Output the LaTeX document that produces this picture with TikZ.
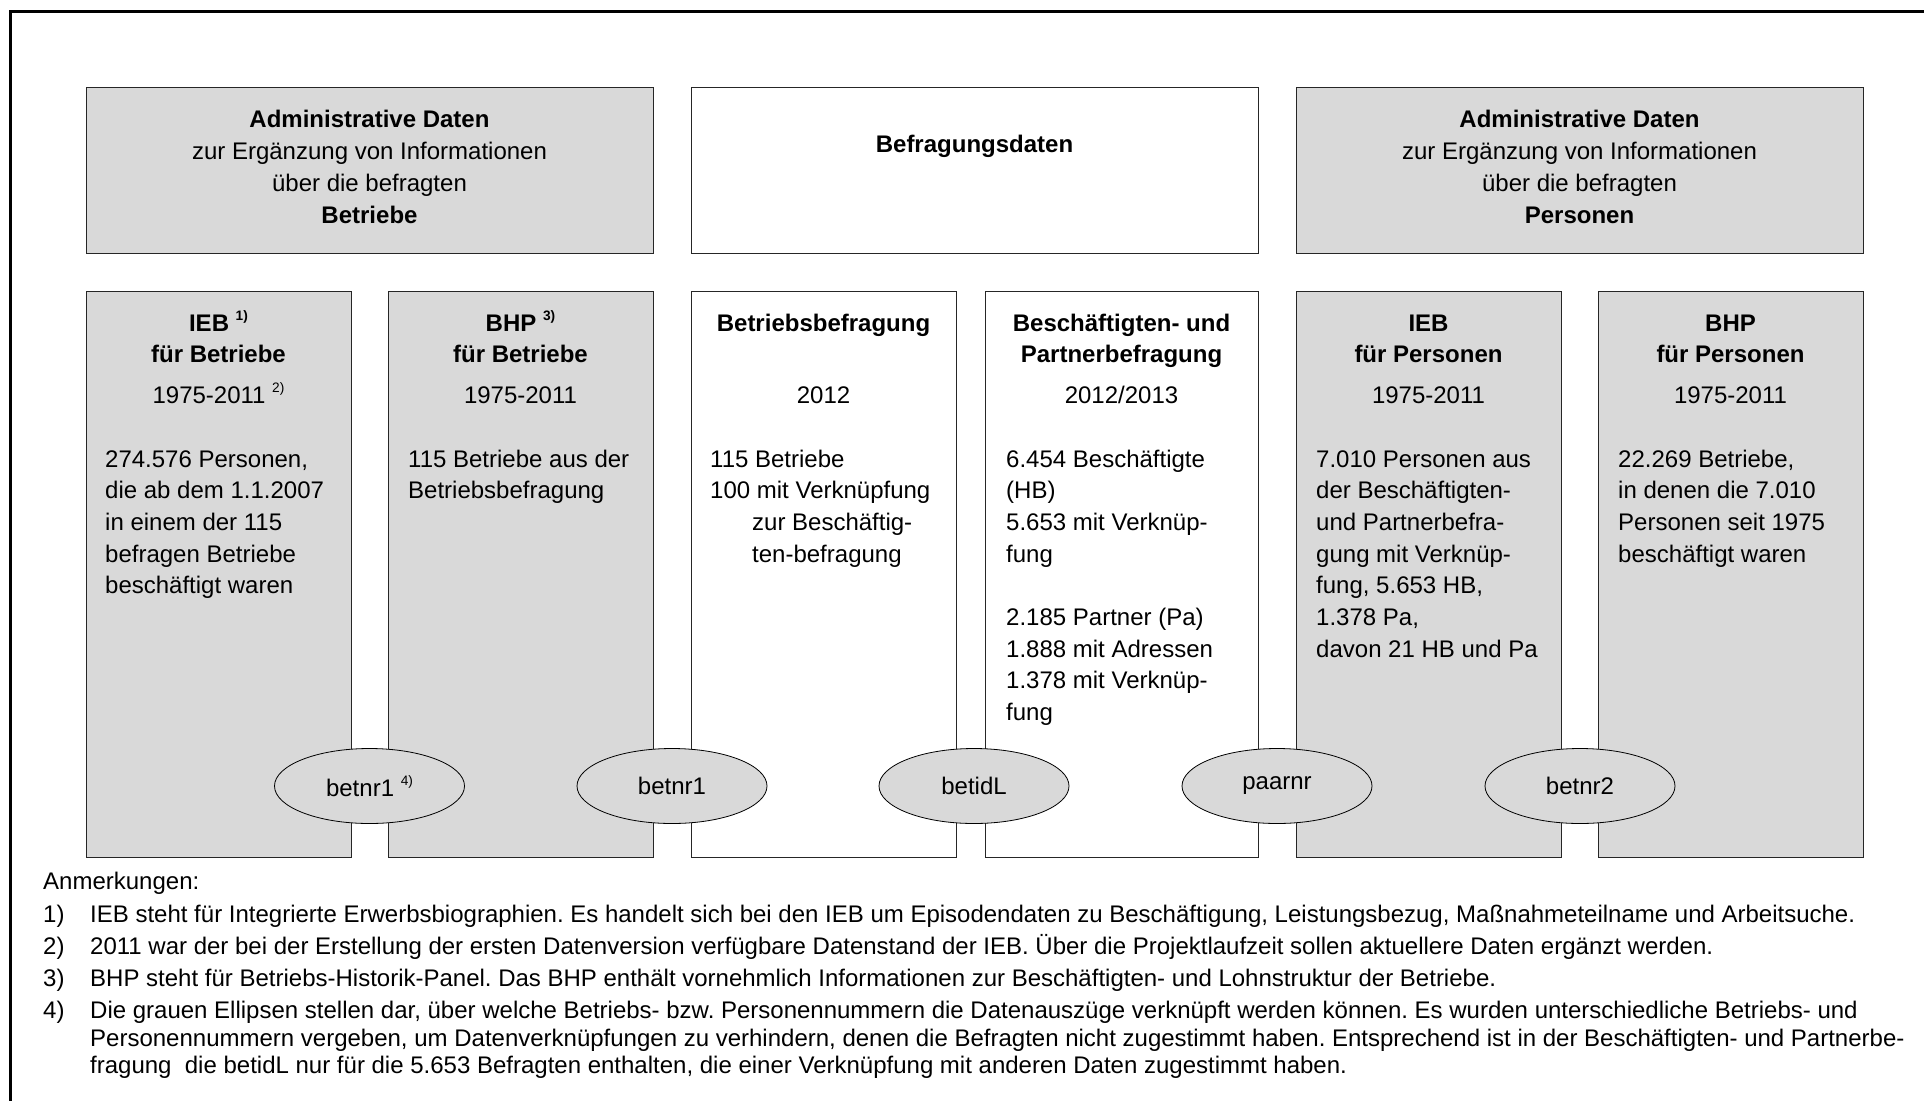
\documentclass[tikz,border=0pt]{standalone}
\usepackage{fontspec}
\setmainfont{Liberation Sans}
\usetikzlibrary{shapes.geometric}
\definecolor{boxgray}{HTML}{D9D9D9}
\newcommand\supx[1]{\raisebox{11pt}{\fontsize{13.7}{13.7}\selectfont #1}}
\newcommand\fsz{\fontsize{24}{31.7}\selectfont}
\frenchspacing
\begin{document}
\begin{tikzpicture}[x=1pt,y=-1pt,
  box/.style={draw=black!85, line width=1.4pt, rectangle, inner sep=0pt, anchor=north west},
  gbox/.style={box, fill=boxgray},
  wbox/.style={box, fill=white},
  topbox/.style={minimum width=567pt, minimum height=166pt},
  colbox/.style={minimum width=265pt, minimum height=566pt},
  lnk/.style={ellipse, draw=black, line width=0.8pt, fill=boxgray, minimum width=190pt, minimum height=75pt, inner sep=0pt, font=\fsz},
  ttl/.style={inner sep=0pt, font=\fsz\bfseries, anchor=base},
  ctr/.style={inner sep=0pt, font=\fsz, anchor=base},
  lft/.style={inner sep=0pt, font=\fsz, anchor=base west}]
\useasboundingbox (0,0) rectangle (1924,1100);
\draw[line width=3pt] (10,1110) -- (10,11) -- (1935,11);

% top boxes
\node[gbox, topbox] (topL) at (86,87) {};
\node[wbox, topbox] (topM) at (691,87) {};
\node[gbox, topbox] (topR) at (1296,87) {};

\node[ttl] (tL1) at (369.5,127) {Administrative Daten};
\node[ctr] (tL2) at (369.5,159) {zur Ergänzung von Informationen};
\node[ctr] (tL3) at (369.5,191) {über die befragten};
\node[ttl] (tL4) at (369.5,223) {Betriebe};

\node[ttl] (tM1) at (974.5,152) {Befragungsdaten};

\node[ttl] (tR1) at (1579.5,127) {Administrative Daten};
\node[ctr] (tR2) at (1579.5,159) {zur Ergänzung von Informationen};
\node[ctr] (tR3) at (1579.5,191) {über die befragten};
\node[ttl] (tR4) at (1579.5,223) {Personen};

% column boxes
\node[gbox, colbox] (c1) at (86,291) {};
\node[gbox, colbox] (c2) at (388,291) {};
\node[wbox, colbox] (c3) at (691,291) {};
\node[wbox, colbox, minimum width=273pt] (c4) at (985,291) {};
\node[gbox, colbox] (c5) at (1296,291) {};
\node[gbox, colbox] (c6) at (1598,291) {};

% column 1
\node[ttl] (c1a) at (218.5,331) {IEB \supx{1)}};
\node[ttl] (c1b) at (218.5,362) {für Betriebe};
\node[ctr] (c1c) at (218.5,403) {1975-2011 \supx{2)}};
\foreach \t [count=\i] in {{274.576 Personen,},die ab dem 1.1.2007,in einem der 115,befragen Betriebe,beschäftigt waren}
  \node[lft] (b1l\i) at (105,{467+31.7*(\i-1)}) {\t};

% column 2
\node[ttl] (c2a) at (520.5,331) {BHP \supx{3)}};
\node[ttl] (c2b) at (520.5,362) {für Betriebe};
\node[ctr] (c2c) at (520.5,403) {1975-2011};
\foreach \t [count=\i] in {115 Betriebe aus der,Betriebsbefragung}
  \node[lft] (b2l\i) at (408,{467+31.7*(\i-1)}) {\t};

% column 3
\node[ttl] (c3a) at (823.5,331) {Betriebsbefragung};
\node[ctr] (c3c) at (823.5,403) {2012};
\node[lft] (b3l1) at (710,467) {115 Betriebe};
\node[lft] (b3l2) at (710,498.7) {100 mit Verknüpfung};
\node[lft] (b3l3) at (752,530.4) {zur Beschäftig-};
\node[lft] (b3l4) at (752,562.1) {ten-befragung};

% column 4
\node[ttl] (c4a) at (1121.5,331) {Beschäftigten- und};
\node[ttl] (c4b) at (1121.5,362) {Partnerbefragung};
\node[ctr] (c4c) at (1121.5,403) {2012/2013};
\foreach \t [count=\i] in {6.454 Beschäftigte,(HB),5.653 mit Verknüp-,fung,{},2.185 Partner (Pa),1.888 mit Adressen,1.378 mit Verknüp-,fung}
  \node[lft] (b4l\i) at (1006,{467+31.7*(\i-1)}) {\t};

% column 5
\node[ttl] (c5a) at (1428.5,331) {IEB};
\node[ttl] (c5b) at (1428.5,362) {für Personen};
\node[ctr] (c5c) at (1428.5,403) {1975-2011};
\foreach \t [count=\i] in {7.010 Personen aus,der Beschäftigten-,und Partnerbefra-,gung mit Verknüp-,{fung, 5.653 HB,},{1.378 Pa,},davon 21 HB und Pa}
  \node[lft] (b5l\i) at (1316,{467+31.7*(\i-1)}) {\t};

% column 6
\node[ttl] (c6a) at (1730.5,331) {BHP};
\node[ttl] (c6b) at (1730.5,362) {für Personen};
\node[ctr] (c6c) at (1730.5,403) {1975-2011};
\foreach \t [count=\i] in {{22.269 Betriebe,},in denen die 7.010,Personen seit 1975,beschäftigt waren}
  \node[lft] (b6l\i) at (1618,{467+31.7*(\i-1)}) {\t};

% link ellipses
\node[lnk] (e1) at (369.5,786) {betnr1 \supx{4)}};
\node[lnk] (e2) at (672,786) {betnr1};
\node[lnk] (e3) at (974,786) {betidL};
\node[lnk] (e4) at (1277,786) {paarnr};
\node[lnk] (e5) at (1580,786) {betnr2};

% notes
\node[lft] (nh) at (43,889) {Anmerkungen:};
\node[lft] (n1) at (43,922) {1)};
\node[lft] (n1t) at (90,922) {IEB steht für Integrierte Erwerbsbiographien. Es handelt sich bei den IEB um Episodendaten zu Beschäftigung, Leistungsbezug, Maßnahmeteilname und Arbeitsuche.};
\node[lft] (n2) at (43,954) {2)};
\node[lft] (n2t) at (90,954) {2011 war der bei der Erstellung der ersten Datenversion verfügbare Datenstand der IEB. Über die Projektlaufzeit sollen aktuellere Daten ergänzt werden.};
\node[lft] (n3) at (43,986) {3)};
\node[lft] (n3t) at (90,986) {BHP steht für Betriebs-Historik-Panel. Das BHP enthält vornehmlich Informationen zur Beschäftigten- und Lohnstruktur der Betriebe.};
\node[lft] (n4) at (43,1018) {4)};
\node[lft] (n4a) at (90,1018) {Die grauen Ellipsen stellen dar, über welche Betriebs- bzw. Personennummern die Datenauszüge verknüpft werden können. Es wurden unterschiedliche Betriebs- und};
\node[lft] (n4b) at (90,1046) {Personennummern vergeben, um Datenverknüpfungen zu verhindern, denen die Befragten nicht zugestimmt haben. Entsprechend ist in der Beschäftigten- und Partnerbe-};
\node[lft] (n4c) at (90,1073) {fragung\ \ die betidL nur für die 5.653 Befragten enthalten, die einer Verknüpfung mit anderen Daten zugestimmt haben.};
\end{tikzpicture}
\end{document}
